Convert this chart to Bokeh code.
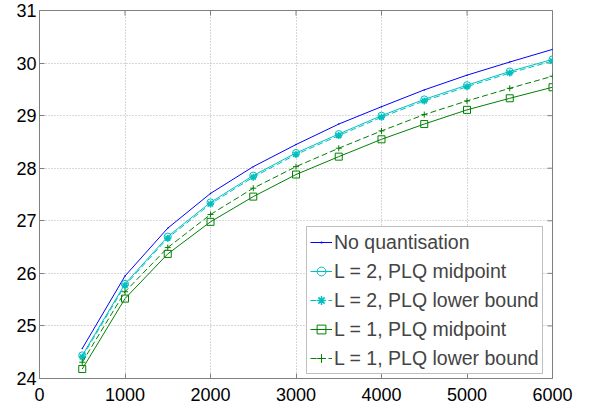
import math
from bokeh.plotting import figure
from bokeh.models import Range1d, SingleIntervalTicker, Legend
from bokeh.embed import file_html
from bokeh.resources import INLINE

x = [500, 1000, 1500, 2000, 2500, 3000, 3500, 4000, 4500, 5000, 5500, 6000]
no_quant = [24.57, 25.95, 26.86, 27.52, 28.03, 28.45, 28.84, 29.17, 29.49, 29.77, 30.02, 30.26]
l2_mid = [24.44, 25.80, 26.70, 27.35, 27.86, 28.29, 28.65, 29.00, 29.31, 29.58, 29.84, 30.07]
l2_lb = [24.41, 25.77, 26.67, 27.32, 27.83, 28.26, 28.62, 28.97, 29.28, 29.55, 29.81, 30.04]
l1_mid = [24.18, 25.52, 26.37, 26.98, 27.46, 27.88, 28.22, 28.55, 28.84, 29.11, 29.33, 29.54]
l1_lb = [24.31, 25.65, 26.49, 27.12, 27.62, 28.03, 28.38, 28.71, 29.02, 29.28, 29.52, 29.75]

labels = ["No quantisation", "L = 2, PLQ midpoint", "L = 2, PLQ lower bound",
          "L = 1, PLQ midpoint", "L = 1, PLQ lower bound"]

x_ticks = [0, 1000, 2000, 3000, 4000, 5000, 6000]
y_ticks = [24, 25, 26, 27, 28, 29, 30, 31]

FONT = "Liberation Sans"
AXC = "#808080"

p = figure(width=600, height=408, frame_width=513, frame_height=368,
           x_range=Range1d(x_ticks[0], x_ticks[-1]), y_range=Range1d(y_ticks[0], y_ticks[-1]),
           output_backend="svg", toolbar_location=None,
           min_border_left=39, min_border_right=48, min_border_top=10, min_border_bottom=30)
p.background_fill_color = "white"
p.border_fill_color = "white"
p.outline_line_color = AXC

for ax in p.axis:
    ax.major_tick_in = 5
    ax.major_tick_out = 0
    ax.minor_tick_in = 0
    ax.minor_tick_out = 0
    ax.axis_line_color = AXC
    ax.major_tick_line_color = AXC
    ax.major_label_text_font = FONT
    ax.major_label_text_font_size = "18px"
    ax.major_label_text_color = "black"
    ax.major_label_standoff = 3
p.xaxis.major_label_standoff = 9
p.xaxis.ticker = SingleIntervalTicker(interval=1000)
p.yaxis.ticker = SingleIntervalTicker(interval=1)

for g in p.grid:
    g.grid_line_color = "#b0b0b0"
    g.grid_line_dash = "1 2"
    g.grid_line_width = 1
p.xgrid.ticker = SingleIntervalTicker(interval=1000)
p.ygrid.ticker = SingleIntervalTicker(interval=1)

# box tick marks on the top and right edges (clipped to the frame)
p.scatter(x_ticks, [y_ticks[-1]] * len(x_ticks), marker="dash", angle=math.pi / 2,
          size=10, line_color=AXC, line_width=1)
p.scatter([x_ticks[-1]] * len(y_ticks), y_ticks, marker="dash", angle=0,
          size=10, line_color=AXC, line_width=1)

BLUE = "#0000ff"
CYAN = "#00bfbf"
GREEN = "#008000"

items = []
r1 = p.line(x, no_quant, color=BLUE, line_width=1)
r1m = p.scatter(x, no_quant, marker="dot", size=6, color=BLUE)
items.append((labels[0], [r1, r1m]))

r2 = p.line(x, l2_mid, color=CYAN, line_width=1)
r2m = p.scatter(x, l2_mid, marker="circle", size=7, line_color=CYAN, fill_color=None, line_width=1)
items.append((labels[1], [r2, r2m]))

r3 = p.line(x, l2_lb, color=CYAN, line_width=1, line_dash="6 3")
r3m = p.scatter(x, l2_lb, marker="asterisk", size=7, line_color=CYAN, line_width=1.5)
items.append((labels[2], [r3, r3m]))

r4 = p.line(x, l1_mid, color=GREEN, line_width=1)
r4m = p.scatter(x, l1_mid, marker="square", size=7, line_color=GREEN, fill_color=None, line_width=1)
items.append((labels[3], [r4, r4m]))

r5 = p.line(x, l1_lb, color=GREEN, line_width=1, line_dash="6 3")
r5m = p.scatter(x, l1_lb, marker="cross", size=6, line_color=GREEN, line_width=1)
items.append((labels[4], [r5, r5m]))

legend = Legend(items=items, location=(267, 4), orientation="vertical",
                label_text_font=FONT, label_text_font_size="19.5px",
                glyph_width=22, glyph_height=24, label_height=24,
                label_standoff=2, spacing=5, padding=3, margin=0,
                border_line_color=AXC, border_line_width=1,
                background_fill_color="white", background_fill_alpha=1.0)
p.add_layout(legend, "center")

open("out.html", "w").write(file_html(p, INLINE))
